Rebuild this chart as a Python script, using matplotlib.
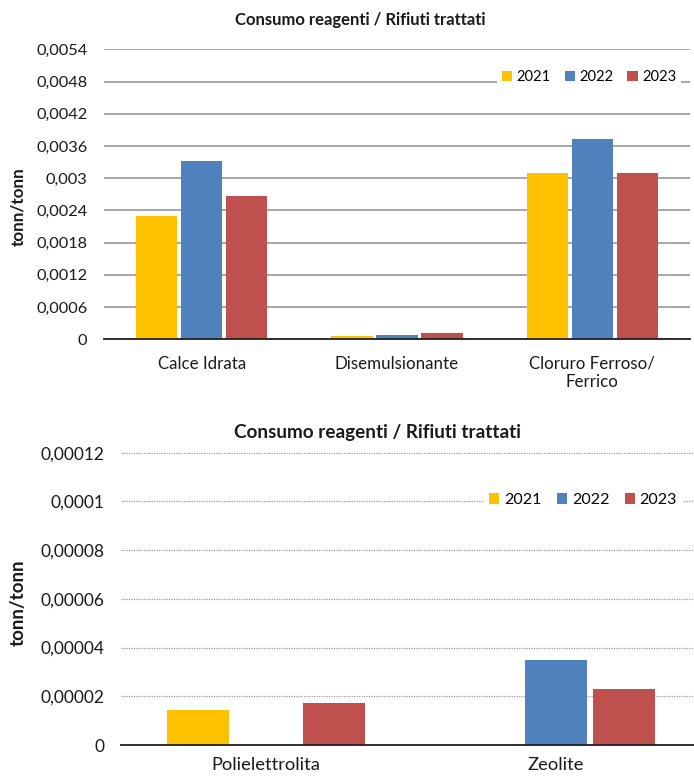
import matplotlib
matplotlib.use("Agg")
import matplotlib.pyplot as plt
from matplotlib.patches import Patch
from matplotlib.ticker import FixedLocator, FixedFormatter
import numpy as np

# ---- data ----
years = ["2021", "2022", "2023"]
colors = ["#FFC000", "#4F81BD", "#C0504D"]

top_categories = ["Calce Idrata", "Disemulsionante", "Cloruro Ferroso/\nFerrico"]
top_2021 = [0.00230, 0.000060, 0.00310]
top_2022 = [0.00332, 0.000080, 0.00373]
top_2023 = [0.00267, 0.000117, 0.00309]
top_ticks = [0, 0.0006, 0.0012, 0.0018, 0.0024, 0.003, 0.0036, 0.0042, 0.0048, 0.0054]
top_ticklabels = ["0", "0,0006", "0,0012", "0,0018", "0,0024", "0,003", "0,0036",
                  "0,0042", "0,0048", "0,0054"]

bot_categories = ["Polielettrolita", "Zeolite"]
bot_2021 = [0.0000144, 0.0]
bot_2022 = [0.0, 0.0000349]
bot_2023 = [0.0000172, 0.0000229]
bot_ticks = [0, 0.00002, 0.00004, 0.00006, 0.00008, 0.0001, 0.00012]
bot_ticklabels = ["0", "0,00002", "0,00004", "0,00006", "0,00008", "0,0001", "0,00012"]

title = "Consumo reagenti / Rifiuti trattati"
ylabel = "tonn/tonn"

plt.rcParams['font.family'] = ['Lato', 'DejaVu Sans']

W, H = 694, 778
fig = plt.figure(figsize=(W / 100, H / 100), dpi=100)


def fx(px):
    return px / W


def fy(py):
    return 1 - py / H


def draw(ax, cats, series, ticks, ticklabels, ymax, width, step, tick_fs,
         cat_fs, grid_style, grid_lw, grid_color, xpad):
    x = np.arange(len(cats))
    for i, (vals, c) in enumerate(zip(series, colors)):
        ax.bar(x + (i - 1) * step, vals, width=width, color=c, zorder=3,
               linewidth=0)
    ax.set_xlim(-0.5, len(cats) - 0.5)
    ax.set_ylim(0, ymax)
    ax.yaxis.set_major_locator(FixedLocator(ticks))
    ax.yaxis.set_major_formatter(FixedFormatter(ticklabels))
    ax.set_xticks(x)
    ax.set_xticklabels(cats, fontsize=cat_fs, color="#1a1a1a", linespacing=1.15)
    ax.tick_params(axis="both", length=0)
    ax.tick_params(axis="y", labelsize=tick_fs, pad=12, colors="#1a1a1a")
    ax.tick_params(axis="x", pad=xpad)
    for s in ["top", "right", "left"]:
        ax.spines[s].set_visible(False)
    ax.spines["bottom"].set_color("#202020")
    ax.spines["bottom"].set_linewidth(1.3)
    ax.spines["bottom"].set_zorder(4)
    ax.yaxis.grid(True, color=grid_color, linestyle=grid_style, linewidth=grid_lw,
                  zorder=0)
    ax.set_axisbelow(True)


# ---- top chart ----
ax1 = fig.add_axes([fx(104), fy(339.3), fx(690 - 104), fy(49.3) - fy(339.3)])
draw(ax1, top_categories, [top_2021, top_2022, top_2023], top_ticks, top_ticklabels,
     0.0054, 0.2125, 0.23, 11.8, 12.2, "-", 1.3, "#a0a0a0", 12)
handles = [Patch(facecolor=c, edgecolor="none", label=y) for c, y in zip(colors, years)]
leg1 = ax1.legend(handles=handles, loc="center", bbox_to_anchor=(fx(589), fy(77)),
                  bbox_transform=fig.transFigure, ncol=3, fontsize=10.6,
                  frameon=True, fancybox=False, edgecolor="none", facecolor="white",
                  framealpha=1, handlelength=0.7, handleheight=0.7,
                  handletextpad=0.3, columnspacing=0.95, borderpad=0.3)
fig.text(fx(360), fy(20), title, ha="center", va="center", fontsize=12,
         fontweight="bold", color="#1a1a1a")
fig.text(fx(18), fy(207), ylabel, ha="center", va="center", rotation=90,
         fontsize=12.3, fontweight="bold", color="#1a1a1a")

# ---- bottom chart ----
ax2 = fig.add_axes([fx(121), fy(745), fx(701 - 121), fy(452.7) - fy(745)])
draw(ax2, bot_categories, [bot_2021, bot_2022, bot_2023], bot_ticks, bot_ticklabels,
     0.00012, 0.217, 0.2345, 12.5, 13.2, (0, (1, 1)), 0.9, "#9a9a9a", 9)
leg2 = ax2.legend(handles=handles, loc="center", bbox_to_anchor=(fx(583), fy(500)),
                  bbox_transform=fig.transFigure, ncol=3, fontsize=11.5,
                  frameon=True, fancybox=False, edgecolor="none", facecolor="white",
                  framealpha=1, handlelength=0.65, handleheight=0.65,
                  handletextpad=0.3, columnspacing=0.95, borderpad=0.4)
fig.text(fx(377), fy(432), title, ha="center", va="center", fontsize=13.6,
         fontweight="bold", color="#1a1a1a")
fig.text(fx(18), fy(603), ylabel, ha="center", va="center", rotation=90,
         fontsize=13.5, fontweight="bold", color="#1a1a1a")

fig.savefig("out.png", dpi=100, facecolor="white")
